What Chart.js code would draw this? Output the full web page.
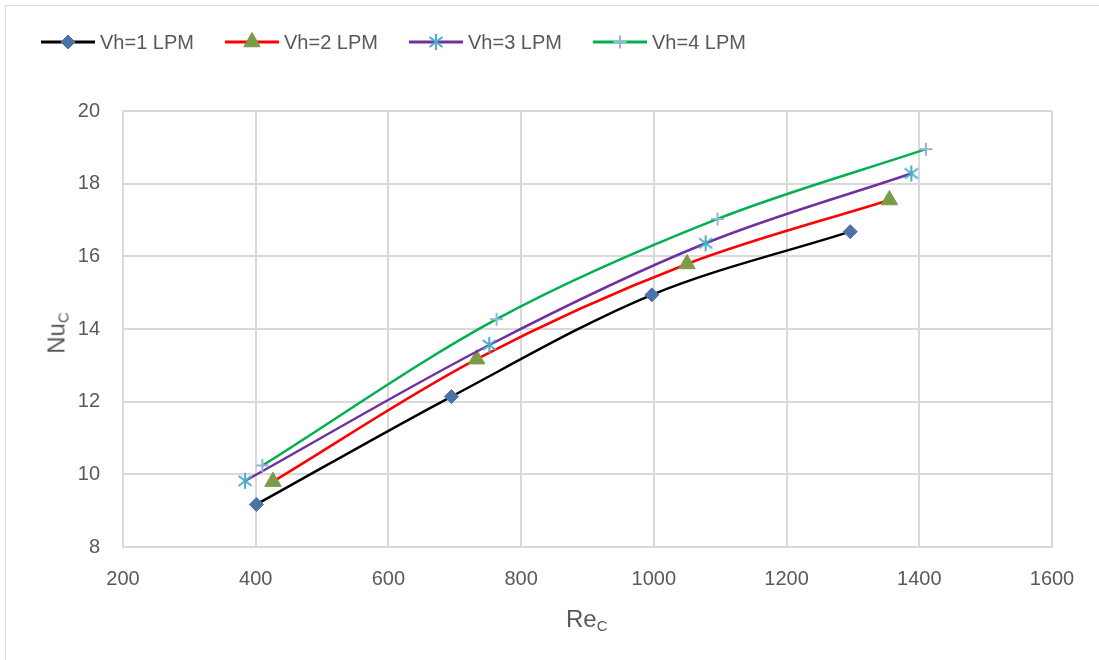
<!DOCTYPE html>
<html>
<head>
<meta charset="utf-8">
<script src="https://cdn.jsdelivr.net/npm/chart.js@4.4.1/dist/chart.umd.min.js"></script>
<style>
  html, body { margin: 0; padding: 0; background: #fff; overflow: hidden; }
  #wrap { position: relative; width: 1099px; height: 660px; }
  #frame { position: absolute; left: 5px; top: 5px; width: 1200px; height: 800px; border: 1px solid #d9d9d9; }
  canvas { position: absolute; left: 0; top: 0; }
  .axis-title { position: absolute; font-family: 'Liberation Sans', Arial, sans-serif; font-size: 24px; color: #595959; white-space: nowrap; }
  .axis-title sub { font-size: 15px; vertical-align: -4px; }
  #xTitle { left: 566px; top: 605px; }
  #yTitle { left: 57px; top: 333px; transform: translate(-50%, -50%) rotate(-90deg); }
</style>
</head>
<body>
<div id="wrap">
  <div id="frame"></div>
  <canvas id="nuChart" width="1099" height="660"></canvas>
  <div class="axis-title" id="xTitle">Re<sub>C</sub></div>
  <div class="axis-title" id="yTitle">Nu<sub>C</sub></div>
</div>
<script>
// Re / Nu pairs for each heater flow rate
const seriesNames = ['Vh=1 LPM', 'Vh=2 LPM', 'Vh=3 LPM', 'Vh=4 LPM'];
const re1 = [401, 695, 997, 1296];
const nu1 = [9.17, 12.14, 14.94, 16.68];
const re2 = [426, 733, 1050, 1355];
const nu2 = [9.8, 13.17, 15.79, 17.55];
const re3 = [384, 752, 1078, 1388];
const nu3 = [9.82, 13.56, 16.36, 18.28];
const re4 = [410, 763, 1096, 1410];
const nu4 = [10.24, 14.27, 17.03, 18.95];

const xTicks = [200, 400, 600, 800, 1000, 1200, 1400, 1600];
const yTicks = [8, 10, 12, 14, 16, 18, 20];

const lineColors = ['#000000', '#ff0000', '#7030a0', '#00b050'];
const markerColors = ['#4a73aa', '#7d9a47', '#4bacc6', '#95b3d7'];

function toPoints(xs, ys) {
  return xs.map((x, i) => ({ x: x, y: ys[i] }));
}

// asterisk marker: X plus a vertical stroke
function makeStar(color) {
  const c = document.createElement('canvas');
  c.width = 18; c.height = 18;
  const g = c.getContext('2d');
  g.strokeStyle = color;
  g.lineWidth = 2;
  g.beginPath();
  g.moveTo(9, 1); g.lineTo(9, 17);
  g.moveTo(2.5, 4); g.lineTo(15.5, 14);
  g.moveTo(15.5, 4); g.lineTo(2.5, 14);
  g.stroke();
  return c;
}

const markerStyles = [
  { pointStyle: 'rectRot', radius: 7, borderWidth: 1 },
  { pointStyle: 'triangle', radius: 9.5, borderWidth: 1 },
  { pointStyle: makeStar(markerColors[2]), radius: 9, borderWidth: 1 },
  { pointStyle: 'cross', radius: 6.5, borderWidth: 2 }
];

const allX = [re1, re2, re3, re4];
const allY = [nu1, nu2, nu3, nu4];

const datasets = seriesNames.map((name, i) => ({
  label: name,
  data: toPoints(allX[i], allY[i]),
  borderColor: lineColors[i],
  borderWidth: 2.5,
  tension: 0.33,
  fill: false,
  showLine: true,
  pointStyle: markerStyles[i].pointStyle,
  pointRadius: markerStyles[i].radius,
  pointHoverRadius: markerStyles[i].radius,
  pointBackgroundColor: markerColors[i],
  pointBorderColor: markerColors[i],
  pointBorderWidth: markerStyles[i].borderWidth,
  order: 4 - i
}));

const tickFont = { family: "'Liberation Sans', Arial, sans-serif", size: 20 };

// legend drawn as line + marker, the way the spreadsheet shows it
const lineLegend = {
  id: 'lineLegend',
  afterDraw(chart) {
    const ctx = chart.ctx;
    const y = 42;
    const step = 184;
    ctx.save();
    chart.data.datasets.forEach((ds, i) => {
      const x0 = 41 + i * step;
      const x1 = x0 + 54;
      ctx.strokeStyle = ds.borderColor;
      ctx.lineWidth = 3;
      ctx.beginPath();
      ctx.moveTo(x0, y);
      ctx.lineTo(x1, y);
      ctx.stroke();
      ctx.fillStyle = ds.pointBackgroundColor;
      ctx.strokeStyle = ds.pointBorderColor;
      ctx.lineWidth = ds.pointBorderWidth;
      Chart.helpers.drawPoint(ctx, {
        pointStyle: ds.pointStyle,
        radius: ds.pointRadius,
        rotation: 0,
        borderWidth: ds.pointBorderWidth
      }, (x0 + x1) / 2, y);
      ctx.fillStyle = '#595959';
      ctx.font = "20px 'Liberation Sans', Arial, sans-serif";
      ctx.textBaseline = 'middle';
      ctx.textAlign = 'left';
      ctx.fillText(ds.label, x1 + 5, y + 1);
    });
    ctx.restore();
  }
};

new Chart(document.getElementById('nuChart'), {
  type: 'scatter',
  data: { datasets: datasets },
  options: {
    responsive: false,
    animation: false,
    layout: { padding: { left: 0, top: 111, right: 47, bottom: 0 } },
    plugins: {
      legend: { display: false },
      tooltip: { enabled: false }
    },
    scales: {
      x: {
        type: 'linear',
        min: xTicks[0],
        max: xTicks[xTicks.length - 1],
        afterBuildTicks: (scale) => { scale.ticks = xTicks.map(v => ({ value: v })); },
        afterFit: (scale) => { scale.height = 113; },
        grid: { color: '#d9d9d9', lineWidth: 2, drawTicks: false },
        border: { color: '#d9d9d9', width: 2 },
        ticks: { color: '#595959', font: tickFont, padding: 20, maxRotation: 0, callback: (v) => String(v) }
      },
      y: {
        type: 'linear',
        min: yTicks[0],
        max: yTicks[yTicks.length - 1],
        afterBuildTicks: (scale) => { scale.ticks = yTicks.map(v => ({ value: v })); },
        afterFit: (scale) => { scale.width = 123; },
        grid: { color: '#d9d9d9', lineWidth: 2, drawTicks: false },
        border: { color: '#d9d9d9', width: 2 },
        ticks: { color: '#595959', font: tickFont, padding: 23, callback: (v) => String(v) }
      }
    }
  },
  plugins: [lineLegend]
});
</script>
</body>
</html>
